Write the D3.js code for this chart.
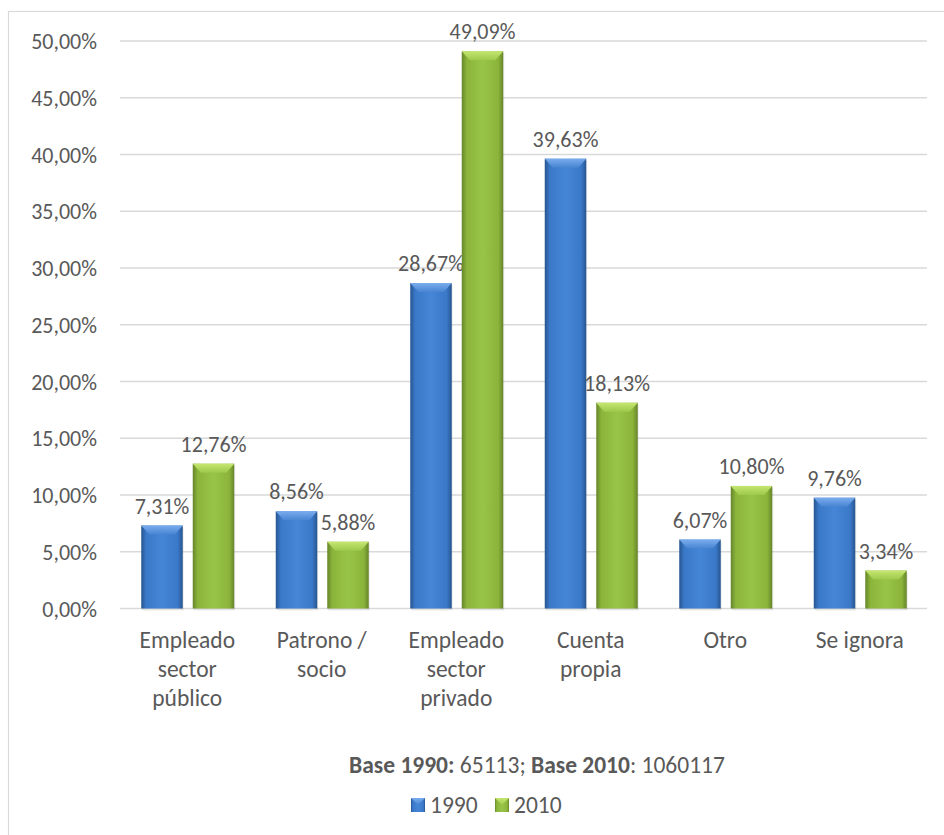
<!DOCTYPE html>
<html>
<head>
<meta charset="utf-8">
<script src="https://cdn.jsdelivr.net/npm/d3@7"></script>
<style>
  html, body { margin: 0; padding: 0; background: #fff; }
  svg { display: block; font-family: Carlito, Lato, "Noto Sans", sans-serif; }
</style>
</head>
<body>
<svg id="chart" width="944" height="835"></svg>
<script>
const categories = ["Empleado\nsector\npúblico", "Patrono /\nsocio", "Empleado\nsector\nprivado", "Cuenta\npropia", "Otro", "Se ignora"];
const seriesNames = ["1990", "2010"];
const values1990 = [7.31, 8.56, 28.67, 39.63, 6.07, 9.76];
const values2010 = [12.76, 5.88, 49.09, 18.13, 10.80, 3.34];
const yTicks = [0, 5, 10, 15, 20, 25, 30, 35, 40, 45, 50];
const footParts = [
  { text: "Base 1990:", bold: true },
  { text: " 65113; ", bold: false },
  { text: "Base 2010", bold: true },
  { text: ": 1060117", bold: false }
];

const svg = d3.select("#chart");
const W = 944, H = 835;
const plot = { left: 120, right: 927, top: 41, bottom: 608.5 };
const textColor = "#595959";
const gridColor = "#d9d9d9";
const numSize = 22, txtSize = 23.5;
const fmt = v => d3.format(".2f")(v).replace(".", ",") + "%";

// chart border
svg.append("rect").attr("x", 8.5).attr("y", 11.5).attr("width", W + 20).attr("height", H + 20)
  .attr("fill", "#fff").attr("stroke", gridColor).attr("stroke-width", 1.2);

const x0 = d3.scaleBand().domain(d3.range(categories.length)).range([plot.left, plot.right]).paddingInner(0).paddingOuter(0);
const y = d3.scaleLinear().domain([0, 50]).range([plot.bottom, plot.top]);

const defs = svg.append("defs");
const palettes = [
  { id: "b", edge: "#27558f", mid: "#3a78c8", light: "#4686d6", top1: "#7aaced", top2: "#4784d2" },
  { id: "g", edge: "#66852a", mid: "#8ab43a", light: "#98c548", top1: "#c6e670", top2: "#9cc94b" }
];
palettes.forEach(p => {
  const gh = defs.append("linearGradient").attr("id", "body" + p.id).attr("x1", "0").attr("x2", "1").attr("y1", "0").attr("y2", "0");
  [[0, p.edge], [0.12, p.mid], [0.5, p.light], [0.88, p.mid], [1, p.edge]].forEach(s =>
    gh.append("stop").attr("offset", s[0]).attr("stop-color", s[1]));
  const gt = defs.append("linearGradient").attr("id", "top" + p.id).attr("x1", "0").attr("x2", "0").attr("y1", "0").attr("y2", "1");
  gt.append("stop").attr("offset", 0).attr("stop-color", p.top1);
  gt.append("stop").attr("offset", 1).attr("stop-color", p.top2);
});

// gridlines
svg.append("g").selectAll("line").data(yTicks).join("line")
  .attr("x1", plot.left).attr("x2", plot.right)
  .attr("y1", d => y(d)).attr("y2", d => y(d))
  .attr("stroke", gridColor).attr("stroke-width", 1.5);

// y axis labels
const yAxis = d3.axisLeft(y).tickValues(yTicks).tickSize(0).tickPadding(0).tickFormat(fmt);
const gy = svg.append("g").attr("transform", `translate(97,0)`).call(yAxis);
gy.attr("font-family", null).attr("font-size", null);
gy.select(".domain").remove();
gy.selectAll("text").attr("fill", textColor).attr("font-size", numSize).attr("dy", "0.35em");

// bars
const barW = 41.5;
const offsets = [-46, 5.5];
const series = [values1990, values2010];
series.forEach((vals, si) => {
  const p = palettes[si];
  const g = svg.append("g");
  vals.forEach((v, i) => {
    const cx = x0(i) + x0.bandwidth() / 2;
    const bx = cx + offsets[si];
    const by = y(v);
    const bh = y(0) - by;
    g.append("rect").attr("x", bx + 1).attr("y", by + 2).attr("width", barW).attr("height", bh)
      .attr("fill", "#000").attr("opacity", 0.08);
    g.append("rect").attr("x", bx).attr("y", by).attr("width", barW).attr("height", bh)
      .attr("fill", `url(#body${p.id})`);
    const bev = Math.min(9, bh / 2);
    g.append("path")
      .attr("d", `M${bx},${by}L${bx + barW},${by}L${bx + barW - 8},${by + bev}L${bx + 8},${by + bev}Z`)
      .attr("fill", `url(#top${p.id})`);
    g.append("text").attr("x", bx + barW / 2).attr("y", by - 12)
      .attr("text-anchor", "middle").attr("font-size", numSize).attr("fill", textColor)
      .text(fmt(v));
  });
});

// x category labels
const gx = svg.append("g");
categories.forEach((c, i) => {
  const cx = x0(i) + x0.bandwidth() / 2;
  const t = gx.append("text").attr("text-anchor", "middle").attr("font-size", txtSize).attr("fill", textColor);
  c.split("\n").forEach((line, li) => {
    t.append("tspan").attr("x", cx).attr("y", 648 + li * 29).text(line);
  });
});

// footnote
const foot = svg.append("text").attr("x", 537).attr("y", 773).attr("text-anchor", "middle")
  .attr("font-size", txtSize).attr("fill", textColor);
footParts.forEach(pt => foot.append("tspan").attr("font-weight", pt.bold ? "bold" : "normal").text(pt.text));

// legend
const legX = [411, 495];
seriesNames.forEach((n, i) => {
  const p = palettes[i];
  svg.append("rect").attr("x", legX[i]).attr("y", 798).attr("width", 14).attr("height", 14)
    .attr("fill", `url(#body${p.id})`);
  svg.append("path").attr("d", `M${legX[i]},798L${legX[i] + 14},798L${legX[i] + 7},805Z`)
    .attr("fill", `url(#top${p.id})`);
  svg.append("text").attr("x", legX[i] + 19).attr("y", 813).attr("font-size", txtSize).attr("fill", textColor).text(n);
});
</script>
</body>
</html>
